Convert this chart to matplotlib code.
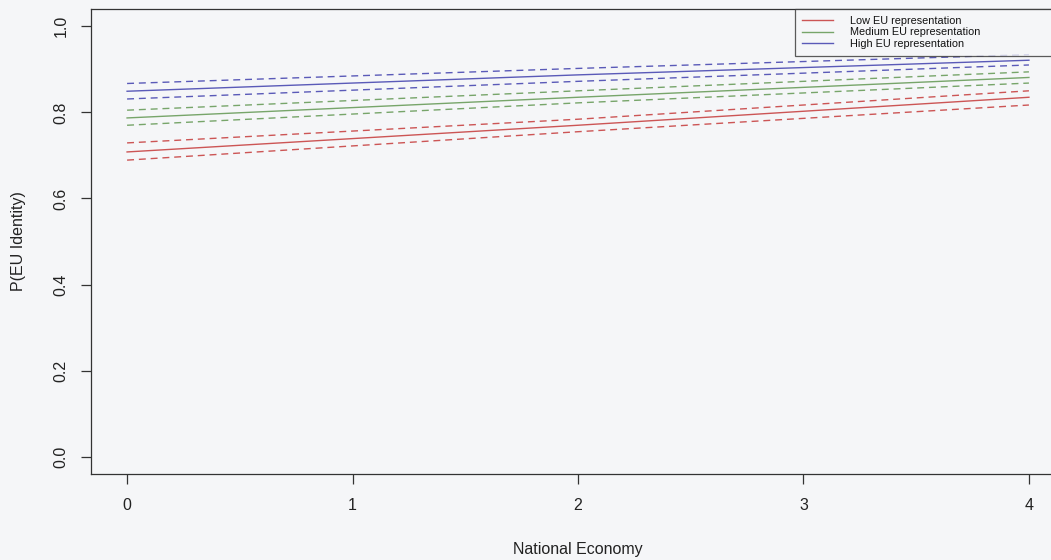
import matplotlib
matplotlib.use("Agg")
import matplotlib.pyplot as plt

# Predicted probability of EU identity by national economy rating
economy = [0, 2, 4]

low_fit = [0.708, 0.770, 0.835]
low_lo = [0.689, 0.755, 0.817]
low_hi = [0.729, 0.784, 0.850]

med_fit = [0.787, 0.835, 0.881]
med_lo = [0.770, 0.822, 0.868]
med_hi = [0.805, 0.850, 0.894]

high_fit = [0.849, 0.887, 0.921]
high_lo = [0.831, 0.872, 0.910]
high_hi = [0.867, 0.902, 0.934]

labels = ["Low EU representation", "Medium EU representation", "High EU representation"]
colors = ["#cc5555", "#77a56a", "#5a5ab8"]

x_ticks = [0, 1, 2, 3, 4]
y_ticks = [0.0, 0.2, 0.4, 0.6, 0.8, 1.0]

plt.rcParams["font.family"] = ["Liberation Sans", "DejaVu Sans"]

bg = "#f5f6f8"
fig = plt.figure(figsize=(10.51, 5.60), dpi=100, facecolor=bg)
# R-style plot region; the right edge runs past the cropped image
ax = fig.add_axes([91 / 1051, 86 / 560, 974 / 1051, 465 / 560], facecolor=bg)

series = [(low_fit, low_lo, low_hi), (med_fit, med_lo, med_hi), (high_fit, high_lo, high_hi)]
handles = []
for (fit, lo, hi), col, lab in zip(series, colors, labels):
    h, = ax.plot(economy, fit, color=col, lw=1.0, label=lab)
    ax.plot(economy, lo, color=col, lw=1.0, dashes=(5, 3.5))
    ax.plot(economy, hi, color=col, lw=1.0, dashes=(5, 3.5))
    handles.append(h)

ax.set_xlim(-0.16, 4.16)
ax.set_ylim(-0.04, 1.04)
ax.set_xticks(x_ticks)
ax.set_xticklabels([str(t) for t in x_ticks])
ax.set_yticks(y_ticks)
ax.set_yticklabels([f"{t:.1f}" for t in y_ticks], rotation=90, va="center")

ax.tick_params(axis="both", direction="out", length=7, width=0.9, color="#333333",
               labelsize=11.5, labelcolor="#222222")
ax.tick_params(axis="x", pad=10)
ax.tick_params(axis="y", pad=9)
for sp in ax.spines.values():
    sp.set_color("#333333")
    sp.set_linewidth(0.9)

ax.set_xlabel("National Economy", fontsize=11.5, color="#222222", labelpad=21)
ax.set_ylabel("P(EU Identity)", fontsize=11.5, color="#222222", labelpad=20)

# legend box starts at x=795 px and runs to the (cropped) right edge of the plot
leg = ax.legend(handles=handles, loc="upper left", mode="expand",
                bbox_to_anchor=(795 / 1051, 0, 270 / 1051, 551 / 560),
                bbox_transform=fig.transFigure,
                fontsize=7.8, frameon=True, fancybox=False, borderaxespad=0,
                handlelength=2.9, handletextpad=1.5, labelspacing=0.12, borderpad=0.65)
leg.get_frame().set_edgecolor("#333333")
leg.get_frame().set_facecolor(bg)
leg.get_frame().set_linewidth(0.9)
leg._legend_box.align = "left"
for t in leg.get_texts():
    t.set_color("#111111")

fig.savefig("out.png", dpi=100, facecolor=bg)
